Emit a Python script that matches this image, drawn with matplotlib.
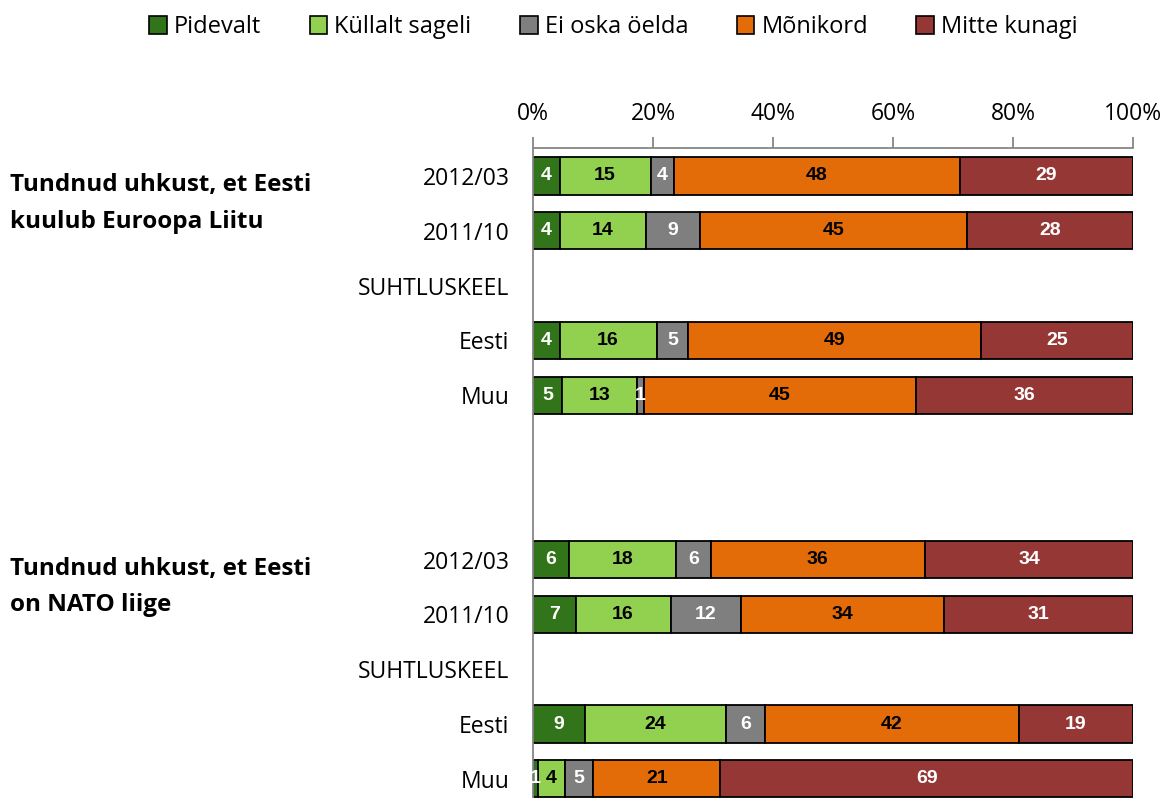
import numpy as np
import matplotlib
matplotlib.use("Agg")
import matplotlib.pyplot as plt
from matplotlib.patches import Patch
import matplotlib.transforms as mtransforms

plt.rcParams['font.family'] = ['Open Sans', 'DejaVu Sans']

# andmed
categories = ['Pidevalt', 'Küllalt sageli', 'Ei oska öelda', 'Mõnikord', 'Mitte kunagi']
colors = ['#31741a', '#92d050', '#7f7f7f', '#e36c09', '#953735']
text_colors = ['white', 'black', 'white', 'black', 'white']

row_labels = ['2012/03', '2011/10', 'SUHTLUSKEEL', 'Eesti', 'Muu', '', '',
              '2012/03', '2011/10', 'SUHTLUSKEEL', 'Eesti', 'Muu']

# osakaalud pildilt (ridadel, kus riba puudub, None)
shares = [
    [4.4, 15.2, 3.8, 47.7, 28.9],
    [4.4, 14.4, 9.0, 44.5, 27.7],
    None,
    [4.4, 16.2, 5.2, 48.8, 25.4],
    [4.8, 12.5, 1.2, 45.3, 36.2],
    None,
    None,
    [6.0, 17.8, 5.8, 35.7, 34.7],
    [7.1, 15.8, 11.7, 33.8, 31.6],
    None,
    [8.6, 23.6, 6.4, 42.3, 19.1],
    [0.8, 4.5, 4.7, 21.2, 68.8],
]
# ribadel kirjas olevad numbrid
labels = [
    [4, 15, 4, 48, 29],
    [4, 14, 9, 45, 28],
    None,
    [4, 16, 5, 49, 25],
    [5, 13, 1, 45, 36],
    None,
    None,
    [6, 18, 6, 36, 34],
    [7, 16, 12, 34, 31],
    None,
    [9, 24, 6, 42, 19],
    [1, 4, 5, 21, 69],
]

group_titles = ['Tundnud uhkust, et Eesti\nkuulub Euroopa Liitu',
                'Tundnud uhkust, et Eesti\non NATO liige']
group_pos = [0.5, 7.5]

fig = plt.figure(figsize=(11.64, 7.98), dpi=100)
ax = fig.add_axes([0.458, 0.0, 0.5155, 0.8145])

y = np.arange(len(row_labels))
for i, row in enumerate(shares):
    if row is None:
        continue
    left = 0
    for j, v in enumerate(row):
        ax.barh(i, v, left=left, height=0.68, color=colors[j],
                edgecolor='black', linewidth=1.3)
        ax.text(left + v / 2, i, str(labels[i][j]), ha='center', va='center',
                color=text_colors[j], fontsize=14, fontweight='bold',
                family=['Liberation Sans'])
        left += v

ax.set_xlim(0, 100)
ax.set_ylim(11.35, -0.51)
ax.set_yticks(y)
ax.set_yticklabels(row_labels, fontsize=16.5)
ax.tick_params(axis='y', length=0, pad=17)
ax.set_xticks([0, 20, 40, 60, 80, 100])
ax.set_xticklabels(['0%', '20%', '40%', '60%', '80%', '100%'], fontsize=16.5)
ax.xaxis.tick_top()
ax.tick_params(axis='x', direction='out', length=8, color='#868686', width=1.3, pad=8)

for s in ['right', 'bottom']:
    ax.spines[s].set_visible(False)
ax.spines['top'].set_color('#868686')
ax.spines['left'].set_color('#868686')
ax.spines['top'].set_linewidth(1.3)
ax.spines['left'].set_linewidth(1.3)

trans = mtransforms.blended_transform_factory(fig.transFigure, ax.transData)
for t, p in zip(group_titles, group_pos):
    ax.text(10 / 1164, p, t, transform=trans, ha='left', va='center',
            fontsize=17.5, fontweight='bold', linespacing=1.7)

handles = [Patch(facecolor=c, edgecolor='black', linewidth=1.2) for c in colors]
fig.legend(handles, categories, loc='center', bbox_to_anchor=(0.527, 0.966),
           ncol=5, frameon=False, fontsize=17, handlelength=0.75,
           handleheight=0.75, handletextpad=0.3, columnspacing=2.05)

fig.savefig('out.png', dpi=100)
